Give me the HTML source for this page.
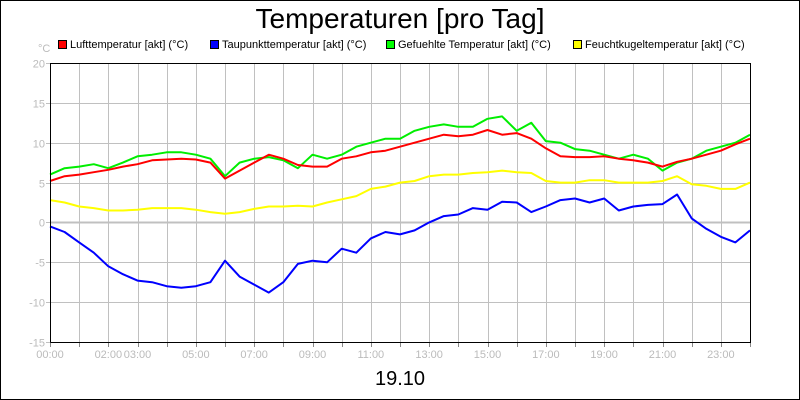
<!DOCTYPE html>
<html><head><meta charset="utf-8"><style>
html,body{margin:0;padding:0;background:#fff}
svg{display:block;font-family:"Liberation Sans",Arial,sans-serif}
</style></head><body>
<svg id="chart" width="800" height="400">
<rect x="0.5" y="0.5" width="799" height="399" fill="#fff" stroke="#000"/>
<text x="400" y="28" font-size="28" text-anchor="middle">Temperaturen [pro Tag]</text>
<g id="legend" font-size="11">
<g><rect x="58.5" y="40.5" width="8" height="8" fill="#f00" stroke="#000"/><text x="70" y="48">Lufttemperatur [akt] (°C)</text></g>
<g><rect x="210.5" y="40.5" width="8" height="8" fill="#00f" stroke="#000"/><text x="222" y="48">Taupunkttemperatur [akt] (°C)</text></g>
<g><rect x="386.5" y="40.5" width="8" height="8" fill="#0f0" stroke="#000"/><text x="398" y="48">Gefuehlte Temperatur [akt] (°C)</text></g>
<g><rect x="573.5" y="40.5" width="8" height="8" fill="#ff0" stroke="#000"/><text x="585" y="48">Feuchtkugeltemperatur [akt] (°C)</text></g>
</g>
<text x="38" y="52" font-size="11" fill="#bbb">°C</text>
<g id="grid"></g>
<g id="series"></g>
<g id="axes"></g>
<text x="400" y="385" font-size="20" text-anchor="middle">19.10</text>
</svg>
<script>
const hours = [0,0.5,1,1.5,2,2.5,3,3.5,4,4.5,5,5.5,6,6.5,7,7.5,8,8.5,9,9.5,10,10.5,11,11.5,12,12.5,13,13.5,14,14.5,15,15.5,16,16.5,17,17.5,18,18.5,19,19.5,20,20.5,21,21.5,22,22.5,23,23.5,24];
const luft = [5.2,5.8,6.0,6.3,6.6,7.0,7.3,7.8,7.9,8.0,7.9,7.5,5.5,6.5,7.5,8.5,8.0,7.2,7.0,7.0,8.0,8.3,8.8,9.0,9.5,10.0,10.5,11.0,10.8,11.0,11.6,11.0,11.2,10.5,9.3,8.3,8.2,8.2,8.3,8.0,7.8,7.5,7.0,7.6,8.0,8.5,9.0,9.8,10.5];
const gefuehlt = [6.0,6.8,7.0,7.3,6.8,7.5,8.3,8.5,8.8,8.8,8.5,8.0,5.8,7.5,8.0,8.2,7.8,6.8,8.5,8.0,8.5,9.5,10.0,10.5,10.5,11.5,12.0,12.3,12.0,12.0,13.0,13.3,11.5,12.5,10.2,10.0,9.2,9.0,8.5,8.0,8.5,8.0,6.5,7.5,8.0,9.0,9.5,10.0,11.0];
const feucht = [2.8,2.5,2.0,1.8,1.5,1.5,1.6,1.8,1.8,1.8,1.6,1.3,1.1,1.3,1.7,2.0,2.0,2.1,2.0,2.5,2.9,3.3,4.2,4.5,5.0,5.2,5.8,6.0,6.0,6.2,6.3,6.5,6.3,6.2,5.2,5.0,5.0,5.3,5.3,5.0,5.0,5.0,5.2,5.8,4.8,4.6,4.2,4.2,5.0];
const taupunkt = [-0.5,-1.2,-2.5,-3.8,-5.5,-6.5,-7.3,-7.5,-8.0,-8.2,-8.0,-7.5,-4.8,-6.8,-7.8,-8.8,-7.5,-5.2,-4.8,-5.0,-3.3,-3.8,-2.0,-1.2,-1.5,-1.0,0.0,0.8,1.0,1.8,1.6,2.6,2.5,1.3,2.0,2.8,3.0,2.5,3.0,1.5,2.0,2.2,2.3,3.5,0.5,-0.8,-1.8,-2.5,-1.0];
const yTicks = [20,15,10,5,0,-5,-10,-15];
const xLabels = ["00:00","02:00","03:00","05:00","07:00","09:00","11:00","13:00","15:00","17:00","19:00","21:00","23:00"];
const xLabelHours = [0,2,3,5,7,9,11,13,15,17,19,21,23];

const NS="http://www.w3.org/2000/svg";
const L=50,R=750,T=63,B=342,yMin=-15,yMax=20,xMax=24;
const xs=h=>L+(R-L)*h/xMax;
const ys=v=>B-(B-T)*(v-yMin)/(yMax-yMin);
function mk(tag,attrs,parent){const e=document.createElementNS(NS,tag);for(const k in attrs)e.setAttribute(k,attrs[k]);parent.appendChild(e);return e;}
const grid=document.getElementById('grid'),axes=document.getElementById('axes'),ser=document.getElementById('series');
for(let h=1;h<xMax;h++){
  const gl=mk('line',{x1:Math.round(xs(h))+0.5,x2:Math.round(xs(h))+0.5,y1:T,y2:B,stroke:'#c0c0c0'},grid);
  
  
}
yTicks.forEach(v=>{
  const y=Math.round(ys(v))+0.5;
  if(v!==yMin&&v!==yMax){
    const gl=mk('line',{x1:L,x2:R,y1:y,y2:y,stroke:'#c0c0c0','stroke-width':v===0?2:1},grid);
    
    
  }
  mk('line',{x1:L-4,x2:L,y1:y,y2:y,stroke:'#c0c0c0'},axes);
  const t=mk('text',{x:L-5,y:y+4,'font-size':11,fill:'#bbb','text-anchor':'end'},axes);
  t.textContent=v;
  
  
});
for(let h=0;h<=xMax;h++){
  const x=Math.round(xs(h))+0.5;
  mk('line',{x1:x,x2:x,y1:B,y2:B+5,stroke:'#888'},axes);
}
xLabels.forEach((lab,i)=>{
  const t=mk('text',{x:xs(xLabelHours[i]),y:B+16,'font-size':11,fill:'#bbb','text-anchor':'middle'},axes);
  t.textContent=lab;
  
  
});
const border=mk('path',{d:`M${L+0.5},${B+0.5}V${T+0.5}H${R+0.5}V${B+0.5}H${L+0.5}`,fill:'none',stroke:'#000'},axes);


function line(data,color,name){
  const d=data.map((v,i)=>(i?'L':'M')+xs(hours[i]).toFixed(1)+','+ys(v).toFixed(1)).join('');
  const p=mk('path',{d:d,fill:'none',stroke:color,'stroke-width':2,'stroke-linejoin':'round'},ser);
  
  
}
line(feucht,'#ffff00','series-feuchtkugeltemperatur');
line(taupunkt,'#0000ff','series-taupunkttemperatur');
line(gefuehlt,'#00ee00','series-gefuehlte-temperatur');
line(luft,'#ff0000','series-lufttemperatur');
</script>
</body></html>
